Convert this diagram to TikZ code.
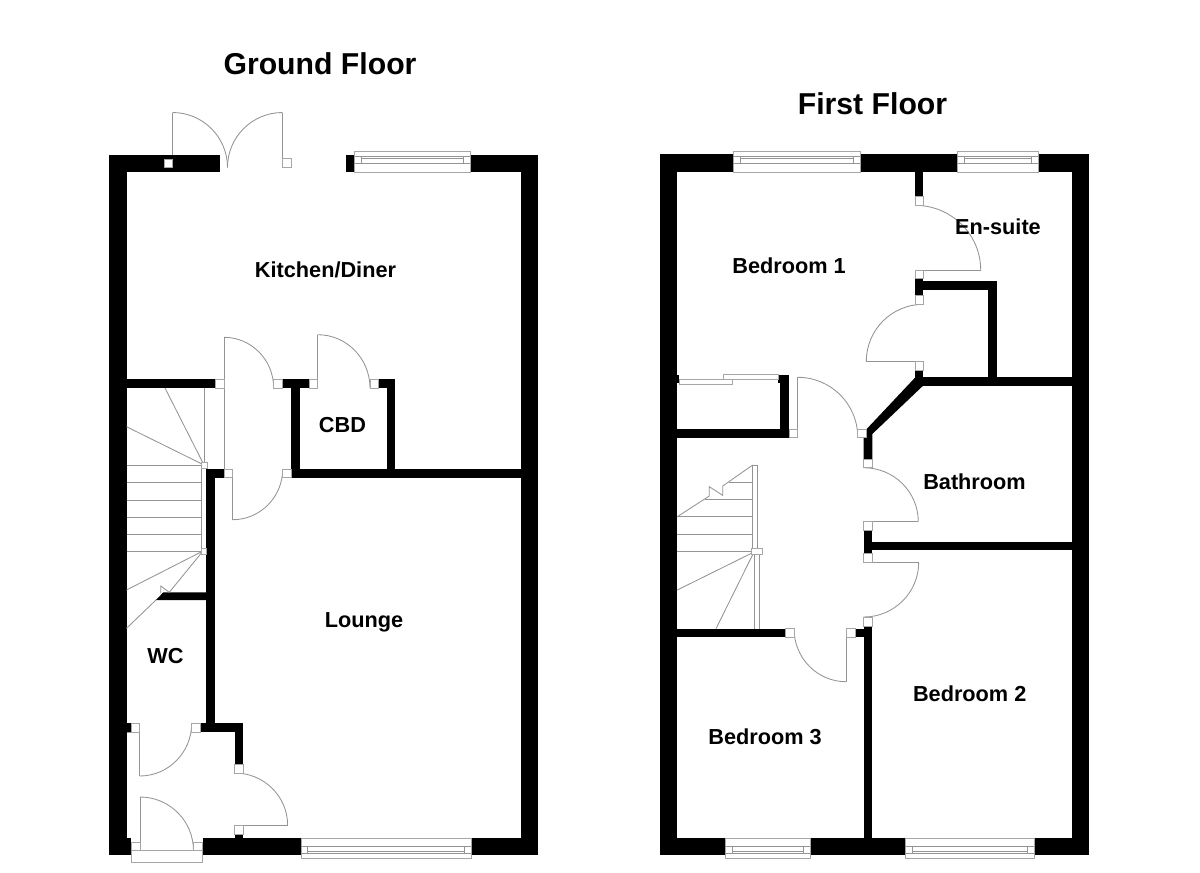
\documentclass[tikz,border=0pt]{standalone}
\usepackage{fontspec}
\setmainfont{Liberation Sans}
\tikzset{
  wall/.style={fill=black,draw=none},
  thin line/.style={draw=linegray,line width=0.85pt},
  sq/.style={fill=white,draw=sqgray,line width=0.85pt},
  glaze/.style={fill=white,draw=sqgray,line width=0.85pt},
  roomlabel/.style={anchor=base,inner sep=0pt,font=\bfseries\fontsize{21.7}{26}\selectfont,text=black},
  titlelabel/.style={anchor=base,inner sep=0pt,font=\bfseries\fontsize{30.2}{36}\selectfont,text=black}
}
\definecolor{linegray}{gray}{0.58}
\definecolor{sqgray}{gray}{0.65}
% wall rectangle
\newcommand{\wl}[4]{\fill[wall] (#1,#2) rectangle (#3,#4);}
% small frame square
\newcommand{\sqb}[4]{\path[sq] (#1,#2) rectangle (#3,#4);}
% thin line
\newcommand{\tl}[4]{\draw[thin line] (#1,#2) -- (#3,#4);}
% door swing: leaves first point horizontally, reaches second vertically
\newcommand{\sw}[4]{\draw[thin line] (#1,#2) .. controls ({#1+0.5523*(#3-(#1))},#2) and (#3,{#4-0.5523*(#4-(#2))}) .. (#3,#4);}
% top window: x1 x2
\newcommand{\wintop}[3]{%
  \path[glaze] (#1,151.6) rectangle (#2,172);
  \tl{#1}{156.5}{#2}{156.5}\tl{#1}{163.6}{#2}{163.6}
  \draw[thin line] ({#1+#3},156.5) rectangle ({#2-#3},163.6);
  \tl{{#1+#3}}{158.3}{{#2-#3}}{158.3}}
% bottom window: x1 x2
\newcommand{\winbot}[3]{%
  \path[glaze] (#1,838) rectangle (#2,858.4);
  \tl{#1}{846.7}{#2}{846.7}\tl{#1}{853.4}{#2}{853.4}
  \draw[thin line] ({#1+#3},846.7) rectangle ({#2-#3},853.4);
  \tl{{#1+#3}}{851.2}{{#2-#3}}{851.2}}
\begin{document}
\begin{tikzpicture}[x=1pt,y=-1pt]
\useasboundingbox (0,0) rectangle (1200,873);
\fill[white] (0,0) rectangle (1200,873);

%%%%%%%%%% GROUND FLOOR
% outer walls
\wl{109}{154.5}{126.5}{855.3}
\wl{109}{154.5}{219.5}{172}
\wl{346}{154.5}{538}{172}
\wl{521}{154.5}{538}{855.3}
\wl{109}{838}{131}{855.3}
\wl{202.7}{838}{538}{855.3}
% inner walls
\wl{126.5}{379.3}{215.3}{388}
\wl{282.7}{379.3}{309}{388}
\wl{378.7}{379.3}{395.3}{388}
\wl{291.3}{379.3}{300}{477.7}
\wl{386.7}{379.3}{395.3}{477.7}
\wl{291.3}{469}{521}{477.7}
\wl{206}{469}{224}{477.7}
\wl{206}{469}{214.7}{732}
\wl{126.5}{723.3}{131}{732}
\wl{200.7}{723.3}{243.3}{732}
\wl{234.7}{723.3}{243.3}{764.3}
\wl{234.7}{834}{243.3}{838}
\fill[wall] (206,592.3) -- (163.3,592.3) -- (156,600) -- (206,600) -- cycle;
% stairs
\foreach \yy in {465.3,482.7,500,517,534.3,551.7}{\tl{126.5}{\yy}{201.7}{\yy}}
\tl{204}{388}{204}{463}
\tl{201.7}{468.7}{201.7}{548.3}
\tl{204}{465}{165}{388}
\tl{204}{465}{126.5}{426.7}
\tl{203}{551}{126.5}{590}
\draw[thin line] (203,551) -- (169.3,592.3) -- (160.7,586) -- (160.7,593.3);
\tl{156}{600}{126.5}{628.3}
% doors
\sw{172.5}{112.5}{227.5}{167.5}
\sw{282.5}{112.5}{227.5}{167.5}
\tl{172.5}{154.5}{172.5}{112.5}
\tl{282.5}{158.5}{282.5}{112.5}
\sw{224}{337.3}{273.7}{388}
\tl{224}{337.3}{224}{469}
\sw{317.7}{334.7}{370}{388}
\tl{317.7}{334.7}{317.7}{379.3}
\sw{232.7}{519.7}{282.7}{469}
\tl{232.7}{519.7}{232.7}{477.7}
\sw{139.7}{776}{191.7}{723.3}
\tl{139.7}{776}{139.7}{732}
\tl{126.5}{732}{139.7}{732}
\sw{140}{797}{193.5}{850.7}
\tl{140}{797}{140}{850.7}
\sw{234.7}{773}{287.6}{825}
\tl{287.6}{825}{243.3}{825}
% frame squares
\sqb{164.5}{159.5}{172.5}{167.5}
\sqb{282.5}{158.5}{291.5}{167.5}
\sqb{215.3}{379.3}{224}{388}
\sqb{273.7}{379.3}{282.7}{388}
\sqb{309}{379.3}{317.7}{388}
\sqb{370}{379.3}{378.7}{388}
\sqb{282.7}{469}{291.3}{477.7}
\sqb{224}{469}{232.7}{477.7}
\sqb{131}{723.3}{139.7}{732}
\sqb{191.7}{723.3}{200.7}{732}
\sqb{234.7}{764.3}{243.3}{773}
\sqb{234.7}{825}{243.3}{834}
\sqb{131}{842}{140}{850.7}
\sqb{193.5}{842}{202.7}{850.7}
\sqb{201}{462.3}{207.3}{468.7}
\sqb{201}{548.3}{206.7}{554.3}
% glazing
\path[glaze] (131,850.7) rectangle (202.7,862.3);
\wintop{354.5}{470}{6.7}
\winbot{301}{471.3}{6.5}

%%%%%%%%%% FIRST FLOOR
% outer walls
\wl{660.3}{154.3}{1089.3}{172}
\wl{660.3}{154.3}{677.3}{855.3}
\wl{1072}{154.3}{1089.3}{855.3}
\wl{660.3}{838}{1089.3}{855.3}
% inner walls
\wl{915}{172}{923.3}{196.7}
\wl{915}{278.7}{923.3}{295.7}
\wl{923.3}{281}{996.7}{289.7}
\wl{988.3}{281}{996.7}{385.3}
\wl{915}{370}{923.3}{380}
\wl{920}{377.3}{1072}{385.7}
\fill[wall] (914.7,378) -- (923.3,378) -- (923.3,385.5) -- (872.3,434) -- (872.3,459) -- (863.7,459) -- (863.7,429) -- (866.7,429) -- cycle;
\wl{677.3}{429}{789}{437.7}
\wl{780.3}{374.7}{789}{429}
\wl{778}{374.7}{789}{383.3}
\wl{863.7}{530.3}{872.3}{553.7}
\wl{872.3}{541.7}{1072}{550}
\wl{863.7}{626}{872.3}{838}
\wl{855}{628.7}{863.7}{637.3}
\wl{677.3}{628.7}{785.3}{637.3}
\wl{677.3}{374.7}{679}{383.3}
% sliding doors
\path[glaze] (679,379.3) rectangle (732.7,384);
\path[glaze] (723.3,374.7) rectangle (778.3,379.3);
% stairs
\foreach \yy in {516.7,534.3,551.3}{\tl{677.3}{\yy}{752.7}{\yy}}
\tl{729.3}{482.3}{752.7}{482.3}
\tl{705}{499.3}{752.7}{499.3}
\draw[thin line] (677.3,516.7) -- (709.3,496) -- (709.3,486.7) -- (722.7,495.3) -- (722.7,486) -- (752.7,465);
\draw[thin line] (752.7,465) rectangle (757.5,548.3);
\tl{754.3}{554.3}{754.3}{628.7}
\tl{759.7}{554.3}{759.7}{628.7}
\tl{754}{552}{677.3}{590}
\tl{754}{552}{716}{628.7}
% doors
\sw{915}{205.3}{980.7}{270}
\tl{923.3}{270}{980.7}{270}
\sw{923.3}{304.3}{866.3}{361.3}
\tl{923.3}{361.3}{866.3}{361.3}
\sw{797.7}{377.3}{857.7}{437}
\tl{797.7}{377.3}{797.7}{429}
\sw{863.7}{467.7}{918.3}{521.7}
\tl{872.3}{521.7}{918.3}{521.7}
\sw{863.7}{617}{918.7}{562.3}
\tl{872.3}{562.3}{918.7}{562.3}
\sw{846}{681.7}{794}{628.7}
\tl{846}{637.3}{846}{681.7}
% frame squares
\sqb{915}{196.7}{923.3}{205.3}
\sqb{915}{270}{923.3}{278.7}
\sqb{915}{295.7}{923.3}{304.3}
\sqb{915}{361.3}{923.3}{370}
\sqb{857.7}{429}{866.3}{437.7}
\sqb{789}{429}{797.7}{437.7}
\sqb{863.7}{459}{872.3}{467.7}
\sqb{863.7}{521.7}{872.3}{530.3}
\sqb{863.7}{553.7}{872.3}{562.3}
\sqb{863.7}{617}{872.3}{626}
\sqb{846}{628.7}{855}{637.3}
\sqb{785.3}{628.7}{794}{637.3}
\sqb{751.7}{548.3}{762.3}{554.3}
% windows
\wintop{733.3}{860}{6.7}
\wintop{957.7}{1038.3}{6.7}
\winbot{725.3}{810.3}{7}
\winbot{905.3}{1034.3}{6.7}

%%%%%%%%%% LABELS
\node[titlelabel] (gf) at (320,74) {Ground Floor};
\node[titlelabel] (ff) at (872.5,114) {First Floor};
\node[roomlabel] (kd) at (325.5,277) {Kitchen/Diner};
\node[roomlabel] (cbd) at (342.5,432.7) {CBD};
\node[roomlabel] (lounge) at (364,627.5) {Lounge};
\node[roomlabel] (wc) at (165.5,663.3) {WC};
\node[roomlabel] (ens) at (998,234) {En-suite};
\node[roomlabel] (b1) at (789,273.3) {Bedroom 1};
\node[roomlabel] (bath) at (974.5,489) {Bathroom};
\node[roomlabel] (b2) at (969.7,701.3) {Bedroom 2};
\node[roomlabel] (b3) at (765,744) {Bedroom 3};
\end{tikzpicture}
\end{document}
